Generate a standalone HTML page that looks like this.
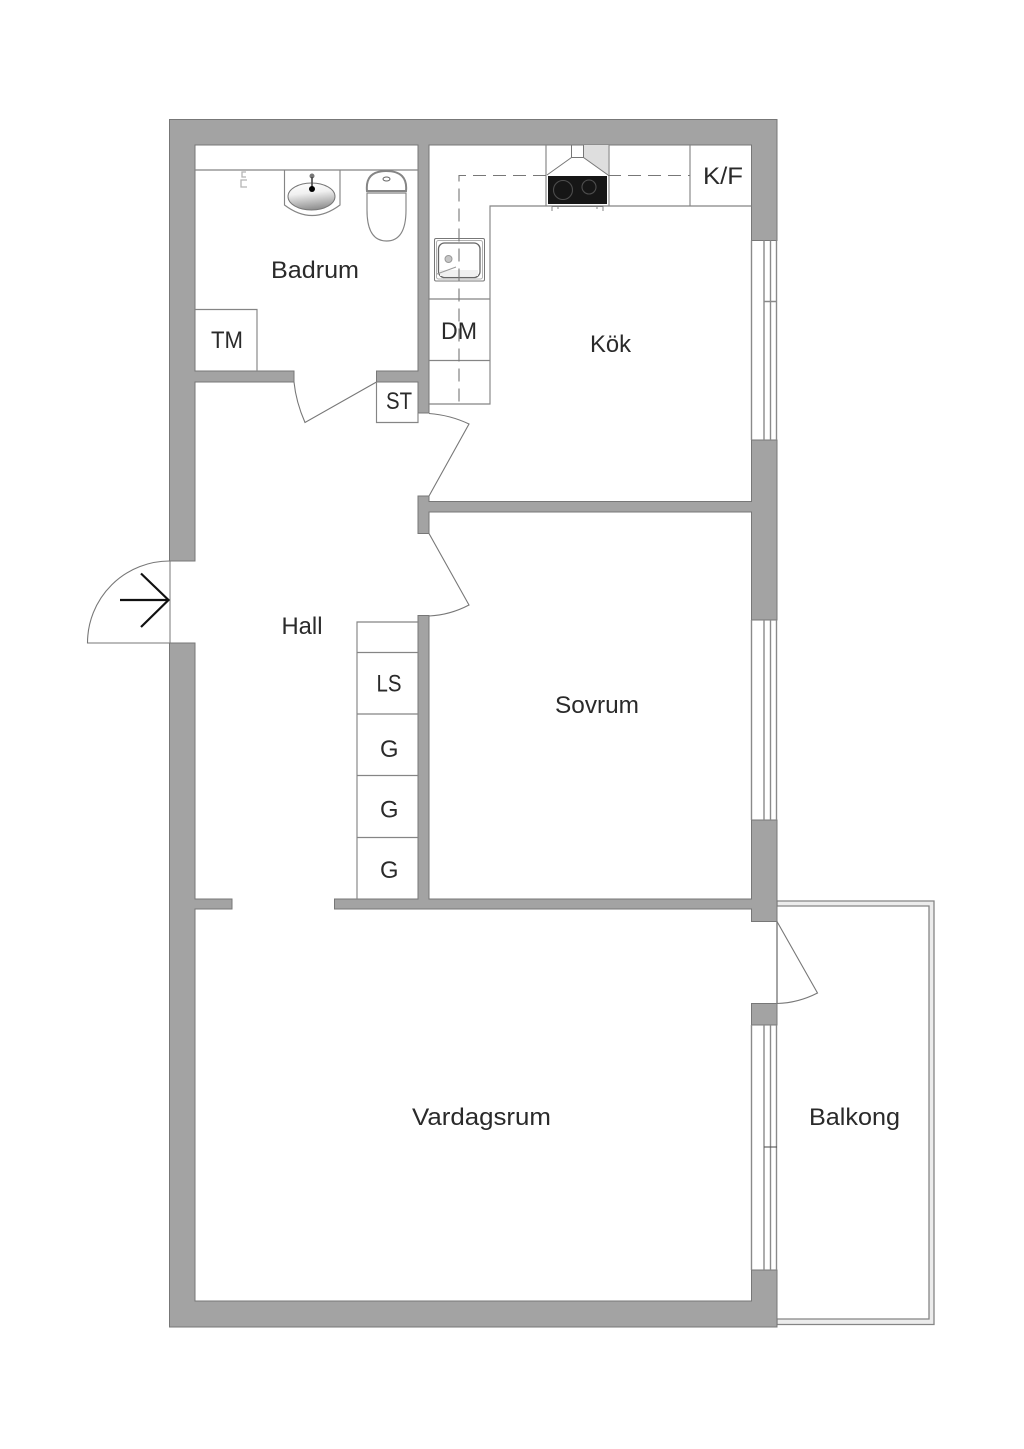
<!DOCTYPE html>
<html lang="sv">
<head>
<meta charset="utf-8">
<title>Planritning</title>
<style>
html,body{margin:0;padding:0;background:#fff}
svg{display:block}
text{font-family:"Liberation Sans",sans-serif;font-size:24.5px;fill:#2a2a2a}
.l{fill:none;stroke:#858585;stroke-width:1.15}
.d{fill:none;stroke:#777;stroke-width:1.1}
</style>
</head>
<body>
<svg width="1024" height="1449" viewBox="0 0 1024 1449" xmlns="http://www.w3.org/2000/svg">
<defs>
<linearGradient id="bowl" x1="0.2" y1="0" x2="0.4" y2="1">
<stop offset="0" stop-color="#fff"/><stop offset="0.4" stop-color="#f0f0f0"/><stop offset="1" stop-color="#909090"/>
</linearGradient>
</defs>
<rect width="1024" height="1449" fill="#fff"/>

<!-- balcony -->
<path d="M777 901H934V1324.5H777V1319H929V906H777Z" fill="#ececec" stroke="#858585" stroke-width="1.3"/>

<!-- walls -->
<g fill="#a3a3a3" stroke="#777" stroke-width="1">
<path d="M169.5 561V119.5H777V240.5H751.5V145H429V413H418V382H376.5V371H418V145H195V371H294V382H195V561Z"/>
<path d="M777 440V620H751.5V512H429V533.5H418V496H429V501.5H751.5V440Z"/>
<path d="M777 820V921.5H751.5V909H334.5V899H418V615.5H429V899H751.5V820Z"/>
<path d="M169.5 643H195V899H232V909H195V1301H751.5V1270H777V1327H169.5Z"/>
<path d="M751.5 1003.5H777V1025H751.5Z"/>
</g>

<!-- windows -->
<g fill="none" stroke="#8a8a8a" stroke-width="1.4">
<path d="M751.5 240.5V440M764 240.5V440M770.5 240.5V440M776.5 240.5V440M764 301.5H777"/>
<path d="M751.5 620V820M764 620V820M770.5 620V820M776.5 620V820"/>
<path d="M751.5 1025V1270M764 1025V1270M770.5 1025V1270M776.5 1025V1270"/>
</g>
<path d="M764 1147H777" stroke="#555" stroke-width="1.1"/>
<path d="M777 921.5V1003.5" stroke="#858585" stroke-width="1.5"/>
<path d="M170 561V643" stroke="#777" stroke-width="1"/>

<!-- doors -->
<g class="d">
<path d="M376.5 382L305 422.5Q296 402 294 382"/>
<path d="M429 496L469 424Q450 415 429 413.5"/>
<path d="M429 533.5L469 605Q450 615 429 616"/>
<path d="M777 921.5L817.5 993Q798 1003 777 1003.5"/>
<path d="M170 643H87.5A82 82 0 0 1 170 561"/>
</g>
<path d="M120 600H168M141 573.5L168.5 600L141 627" fill="none" stroke="#111" stroke-width="2.2"/>

<!-- bathroom fixtures -->
<g class="l">
<path d="M195 170H418"/>
<path d="M195 309.5H257V371"/>
<path d="M376.5 382V422.5H418V413"/>
<path d="M284.5 170V205Q312 226 340 205V170" />
<path d="M367 191Q365 171 386 171Q408 171 406 191Z" stroke-width="2"/>
<path d="M367 193H406V210Q406 241 386.5 241Q367 241 367 210Z"/>
</g>
<ellipse cx="311.5" cy="196.5" rx="23.5" ry="13.5" fill="url(#bowl)" stroke="#777"/>
<circle cx="312" cy="176" r="2.5" fill="#777"/>
<path d="M312 177V189" stroke="#444" stroke-width="1.6"/>
<circle cx="312" cy="189" r="3" fill="#000"/>
<ellipse cx="386.5" cy="179" rx="3.5" ry="2" fill="none" stroke="#666"/>
<path d="M246 172H242V177H246M247 180H241V187H247" fill="none" stroke="#b5b5b5" stroke-width="1.3"/>

<!-- kitchen -->
<g class="l">
<path d="M429 299H490M429 360.5H490M429 404H490V206H751.5"/>
<path d="M690 145V206"/>
<path d="M546 145V206M609 145V206"/>
</g>
<path d="M583.5 145H608.5V175L583.5 157.5Z" fill="#dedede"/>
<path d="M571.5 145V157.5H583.5V145M547 175L571.5 157.5M583.5 157.5L608 175" fill="none" stroke="#777"/>
<rect x="548" y="176" width="59" height="28" fill="#161616"/>
<circle cx="563" cy="190" r="9.5" fill="none" stroke="#4d4d4d" stroke-width="1.1"/>
<circle cx="589" cy="187" r="7" fill="none" stroke="#4d4d4d" stroke-width="1.1"/>
<path d="M552 211V206.5H603V211M558 206.5V209M597 206.5V209" fill="none" stroke="#777" stroke-width="0.9"/>

<!-- kitchen sink -->
<rect x="434.5" y="238.5" width="50" height="42.5" rx="1.5" fill="#fff" stroke="#777"/>
<rect x="436.5" y="240.5" width="46" height="38.5" rx="2" fill="none" stroke="#b0b0b0"/>
<rect x="438.5" y="243" width="41.5" height="34.5" rx="6" fill="#fff" stroke="#666" stroke-width="1.3"/>
<path d="M440 270H478V276H440Z" fill="#f0f0f0"/>
<circle cx="448.5" cy="259" r="3.5" fill="#c6c6c6" stroke="#999"/>
<path d="M437 274L456 267" stroke="#999" stroke-width="1"/>

<!-- worktop dashed line, drawn over the sink -->
<path d="M546 175.5H459V404" fill="none" stroke="#777" stroke-width="1.1" stroke-dasharray="13 7"/>
<path d="M608 175.5H690" fill="none" stroke="#777" stroke-width="1.1" stroke-dasharray="13 7"/>

<!-- closets -->
<g class="l">
<path d="M418 622H357V899M357 652.5H418M357 714H418M357 775.5H418M357 837.5H418"/>
</g>

<!-- labels -->
<text x="271" y="278" textLength="88" lengthAdjust="spacingAndGlyphs">Badrum</text>
<text x="211" y="348" textLength="32" lengthAdjust="spacingAndGlyphs">TM</text>
<text x="386" y="409" textLength="26" lengthAdjust="spacingAndGlyphs">ST</text>
<text x="441" y="339" textLength="36" lengthAdjust="spacingAndGlyphs">DM</text>
<text x="703" y="184" textLength="40" lengthAdjust="spacingAndGlyphs">K/F</text>
<text x="590" y="352" textLength="41" lengthAdjust="spacingAndGlyphs">Kök</text>
<text x="281.5" y="634" textLength="41" lengthAdjust="spacingAndGlyphs">Hall</text>
<text x="376.5" y="691.5" textLength="25" lengthAdjust="spacingAndGlyphs">LS</text>
<text x="380" y="757" textLength="18.5" lengthAdjust="spacingAndGlyphs">G</text>
<text x="380" y="817.5" textLength="18.5" lengthAdjust="spacingAndGlyphs">G</text>
<text x="380" y="878" textLength="18.5" lengthAdjust="spacingAndGlyphs">G</text>
<text x="555" y="713" textLength="84" lengthAdjust="spacingAndGlyphs">Sovrum</text>
<text x="412" y="1125" textLength="139" lengthAdjust="spacingAndGlyphs">Vardagsrum</text>
<text x="809" y="1125" textLength="91" lengthAdjust="spacingAndGlyphs">Balkong</text>
</svg>
</body>
</html>
